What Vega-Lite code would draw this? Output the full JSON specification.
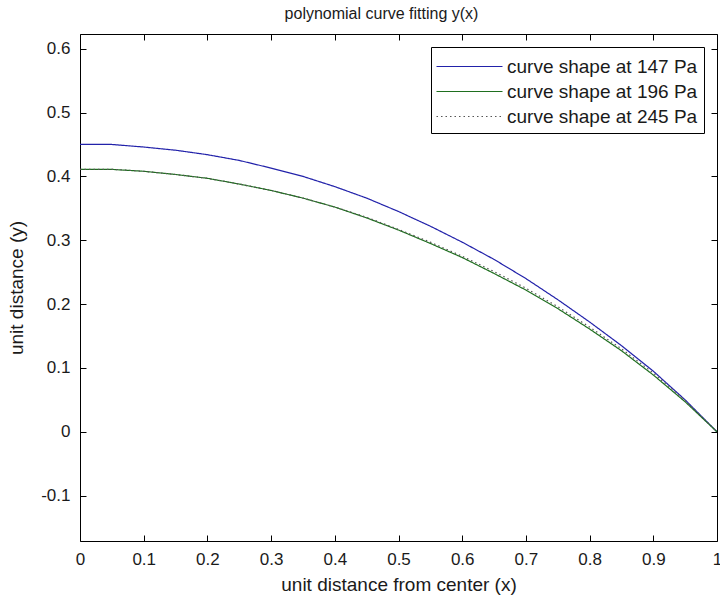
{
  "$schema": "https://vega.github.io/schema/vega-lite/v6.json",
  "width": 637,
  "height": 507,
  "autosize": {"type": "none"},
  "padding": {"left": 80, "top": 34, "right": 3, "bottom": 57},
  "background": "white",
  "title": {"text": "polynomial curve fitting y(x)", "font": "Liberation Sans", "fontSize": 16, "fontWeight": "normal", "color": "#1a1a1a", "offset": -1, "dx": -17, "baseline": "alphabetic"},
  "config": {
    "view": {"stroke": null},
    "axis": {
      "grid": false,
      "domainColor": "#000000",
      "domainWidth": 1,
      "tickColor": "#000000",
      "tickWidth": 1,
      "tickSize": -6,
      "labelFont": "Liberation Sans",
      "labelFontSize": 17,
      "labelColor": "#1a1a1a",
      "labelFlush": false,
      "labelOverlap": false,
      "labelBound": false,
      "titleFont": "Liberation Sans",
      "titleFontSize": 19,
      "titleFontWeight": "normal",
      "titleColor": "#1a1a1a"
    },
    "legend": {
      "orient": "none",
      "legendX": 351,
      "legendY": 13,
      "title": null,
      "symbolType": "M-2.64,0H2.64",
      "symbolSize": 625,
      "symbolStrokeWidth": 1.2,
      "labelFont": "Liberation Sans",
      "labelFontSize": 19,
      "labelColor": "#1a1a1a",
      "labelLimit": 400,
      "strokeColor": "#000000",
      "fillColor": "#ffffff",
      "padding": 6,
      "rowPadding": 1,
      "symbolOffset": 19,
      "labelOffset": 24
    }
  },
  "data": {
    "values": [
      {"x": 0, "y": 0.450, "series": "curve shape at 147 Pa"},
      {"x": 0.05, "y": 0.450, "series": "curve shape at 147 Pa"},
      {"x": 0.1, "y": 0.446, "series": "curve shape at 147 Pa"},
      {"x": 0.15, "y": 0.441, "series": "curve shape at 147 Pa"},
      {"x": 0.2, "y": 0.434, "series": "curve shape at 147 Pa"},
      {"x": 0.25, "y": 0.425, "series": "curve shape at 147 Pa"},
      {"x": 0.3, "y": 0.413, "series": "curve shape at 147 Pa"},
      {"x": 0.35, "y": 0.400, "series": "curve shape at 147 Pa"},
      {"x": 0.4, "y": 0.384, "series": "curve shape at 147 Pa"},
      {"x": 0.45, "y": 0.366, "series": "curve shape at 147 Pa"},
      {"x": 0.5, "y": 0.345, "series": "curve shape at 147 Pa"},
      {"x": 0.55, "y": 0.322, "series": "curve shape at 147 Pa"},
      {"x": 0.6, "y": 0.297, "series": "curve shape at 147 Pa"},
      {"x": 0.65, "y": 0.270, "series": "curve shape at 147 Pa"},
      {"x": 0.7, "y": 0.240, "series": "curve shape at 147 Pa"},
      {"x": 0.75, "y": 0.207, "series": "curve shape at 147 Pa"},
      {"x": 0.8, "y": 0.172, "series": "curve shape at 147 Pa"},
      {"x": 0.85, "y": 0.135, "series": "curve shape at 147 Pa"},
      {"x": 0.9, "y": 0.095, "series": "curve shape at 147 Pa"},
      {"x": 0.95, "y": 0.050, "series": "curve shape at 147 Pa"},
      {"x": 1, "y": 0.0, "series": "curve shape at 147 Pa"},
      {"x": 0, "y": 0.411, "series": "curve shape at 196 Pa"},
      {"x": 0.05, "y": 0.411, "series": "curve shape at 196 Pa"},
      {"x": 0.1, "y": 0.408, "series": "curve shape at 196 Pa"},
      {"x": 0.15, "y": 0.403, "series": "curve shape at 196 Pa"},
      {"x": 0.2, "y": 0.397, "series": "curve shape at 196 Pa"},
      {"x": 0.25, "y": 0.388, "series": "curve shape at 196 Pa"},
      {"x": 0.3, "y": 0.378, "series": "curve shape at 196 Pa"},
      {"x": 0.35, "y": 0.366, "series": "curve shape at 196 Pa"},
      {"x": 0.4, "y": 0.352, "series": "curve shape at 196 Pa"},
      {"x": 0.45, "y": 0.335, "series": "curve shape at 196 Pa"},
      {"x": 0.5, "y": 0.316, "series": "curve shape at 196 Pa"},
      {"x": 0.55, "y": 0.295, "series": "curve shape at 196 Pa"},
      {"x": 0.6, "y": 0.273, "series": "curve shape at 196 Pa"},
      {"x": 0.65, "y": 0.248, "series": "curve shape at 196 Pa"},
      {"x": 0.7, "y": 0.222, "series": "curve shape at 196 Pa"},
      {"x": 0.75, "y": 0.193, "series": "curve shape at 196 Pa"},
      {"x": 0.8, "y": 0.161, "series": "curve shape at 196 Pa"},
      {"x": 0.85, "y": 0.127, "series": "curve shape at 196 Pa"},
      {"x": 0.9, "y": 0.089, "series": "curve shape at 196 Pa"},
      {"x": 0.95, "y": 0.047, "series": "curve shape at 196 Pa"},
      {"x": 1, "y": 0.0, "series": "curve shape at 196 Pa"},
      {"x": 0, "y": 0.411, "series": "curve shape at 245 Pa"},
      {"x": 0.05, "y": 0.411, "series": "curve shape at 245 Pa"},
      {"x": 0.1, "y": 0.408, "series": "curve shape at 245 Pa"},
      {"x": 0.15, "y": 0.403, "series": "curve shape at 245 Pa"},
      {"x": 0.2, "y": 0.397, "series": "curve shape at 245 Pa"},
      {"x": 0.25, "y": 0.388, "series": "curve shape at 245 Pa"},
      {"x": 0.3, "y": 0.378, "series": "curve shape at 245 Pa"},
      {"x": 0.35, "y": 0.366, "series": "curve shape at 245 Pa"},
      {"x": 0.4, "y": 0.352, "series": "curve shape at 245 Pa"},
      {"x": 0.45, "y": 0.336, "series": "curve shape at 245 Pa"},
      {"x": 0.5, "y": 0.317, "series": "curve shape at 245 Pa"},
      {"x": 0.55, "y": 0.297, "series": "curve shape at 245 Pa"},
      {"x": 0.6, "y": 0.275, "series": "curve shape at 245 Pa"},
      {"x": 0.65, "y": 0.251, "series": "curve shape at 245 Pa"},
      {"x": 0.7, "y": 0.225, "series": "curve shape at 245 Pa"},
      {"x": 0.75, "y": 0.196, "series": "curve shape at 245 Pa"},
      {"x": 0.8, "y": 0.164, "series": "curve shape at 245 Pa"},
      {"x": 0.85, "y": 0.130, "series": "curve shape at 245 Pa"},
      {"x": 0.9, "y": 0.092, "series": "curve shape at 245 Pa"},
      {"x": 0.95, "y": 0.049, "series": "curve shape at 245 Pa"},
      {"x": 1, "y": 0.0, "series": "curve shape at 245 Pa"}
    ]
  },
  "layer": [
    {
      "mark": {"type": "line", "strokeWidth": 1.2, "clip": true},
      "encoding": {
        "x": {"field": "x", "type": "quantitative",
          "scale": {"domain": [0, 1], "nice": false, "zero": false},
          "axis": {"orient": "bottom", "title": "unit distance from center (x)", "values": [0, 0.1, 0.2, 0.3, 0.4, 0.5, 0.6, 0.7, 0.8, 0.9, 1], "format": "~g", "labelPadding": 16, "titlePadding": 8}},
        "y": {"field": "y", "type": "quantitative",
          "scale": {"domain": [-0.171, 0.623], "nice": false, "zero": false},
          "axis": {"orient": "left", "title": "unit distance (y)", "values": [-0.1, 0, 0.1, 0.2, 0.3, 0.4, 0.5, 0.6], "labelExpr": "datum.value < 0 ? '-' + format(-datum.value, '.1f') : (datum.value == 0 ? '0' : format(datum.value, '.1f'))", "labelPadding": 16, "titlePadding": 14}},
        "color": {"field": "series", "type": "nominal",
          "scale": {"domain": ["curve shape at 147 Pa", "curve shape at 196 Pa", "curve shape at 245 Pa"], "range": ["#2222aa", "#1f6f1f", "#555555"]},
          "legend": {"title": null}},
        "strokeDash": {"field": "series", "type": "nominal",
          "scale": {"domain": ["curve shape at 147 Pa", "curve shape at 196 Pa", "curve shape at 245 Pa"], "range": [[1, 0], [1, 0], [1.5, 3]]},
          "legend": {"title": null}}
      }
    },
    {
      "mark": {"type": "line", "opacity": 0},
      "encoding": {
        "x": {"field": "x", "type": "quantitative",
          "axis": {"orient": "top", "title": null, "labels": false, "values": [0, 0.1, 0.2, 0.3, 0.4, 0.5, 0.6, 0.7, 0.8, 0.9, 1]}},
        "y": {"field": "y", "type": "quantitative",
          "axis": {"orient": "right", "title": null, "labels": false, "values": [-0.1, 0, 0.1, 0.2, 0.3, 0.4, 0.5, 0.6]}},
        "detail": {"field": "series"}
      }
    }
  ],
  "resolve": {"axis": {"x": "independent", "y": "independent"}}
}
